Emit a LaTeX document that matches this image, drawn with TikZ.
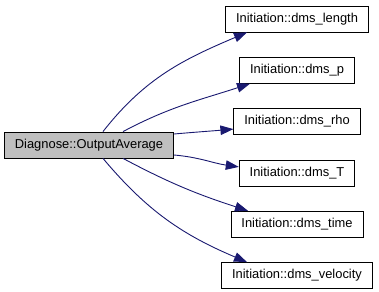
\documentclass[tikz,border=0pt]{standalone}
\usepackage{fontspec}
\setmainfont{Liberation Sans}
\usepackage{tikz}
\usetikzlibrary{arrows.meta,positioning}
\usepackage{xcolor}
\definecolor{callnavy} {RGB}{ 25, 25,112}
\definecolor{callergray}{RGB}{191,191,191}

\begin{document}
\begin{tikzpicture}[
    x=1pt, y=-1pt,
    node distance=24.5pt,
    fn/.style={draw=black, rectangle, line width=0.8pt, minimum height=26pt, inner xsep=10.5pt, font=\fontsize{12.9}{15}\selectfont},
    caller/.style={fn, fill=callergray},
    callee/.style={fn, fill=white},
    call/.style={-{Triangle[length=13pt, width=9.5pt]}, draw=callnavy, line width=0.9pt}
]
    \useasboundingbox (0,0) rectangle (379,291);

    % Caller
    \node[caller] (avg) at (89,145) {Diagnose::OutputAverage};

    % Callees
    \node[callee] (len) at (297,19) {Initiation::dms\_length};
    \node[callee] (p)   [below=of len] {Initiation::dms\_p};
    \node[callee] (rho) [below=of p]   {Initiation::dms\_rho};
    \node[callee] (T)   [below=of rho] {Initiation::dms\_T};
    \node[callee] (tm)  [below=of T]   {Initiation::dms\_time};
    \node[callee] (vel) [below=of tm]  {Initiation::dms\_velocity};

    % Calls
    \draw[call] ([xshift=14pt]avg.north) to[out=52, in=203] ([xshift=-50pt]len.south);
    \draw[call] ([xshift=34pt]avg.north) to[out=28, in=198] ([xshift=-47pt]p.south);
    \draw[call] ([yshift=11pt]avg.east)  to[out=5, in=185]   ([yshift=-7.5pt]rho.west);
    \draw[call] ([yshift=-10pt]avg.east) to[out=-5, in=172]  ([yshift=6pt]T.west);
    \draw[call] ([xshift=34pt]avg.south) to[out=-28, in=162] ([xshift=-49pt]tm.north);
    \draw[call] ([xshift=14pt]avg.south) to[out=-50, in=157] ([xshift=-50pt]vel.north);
\end{tikzpicture}
\end{document}
